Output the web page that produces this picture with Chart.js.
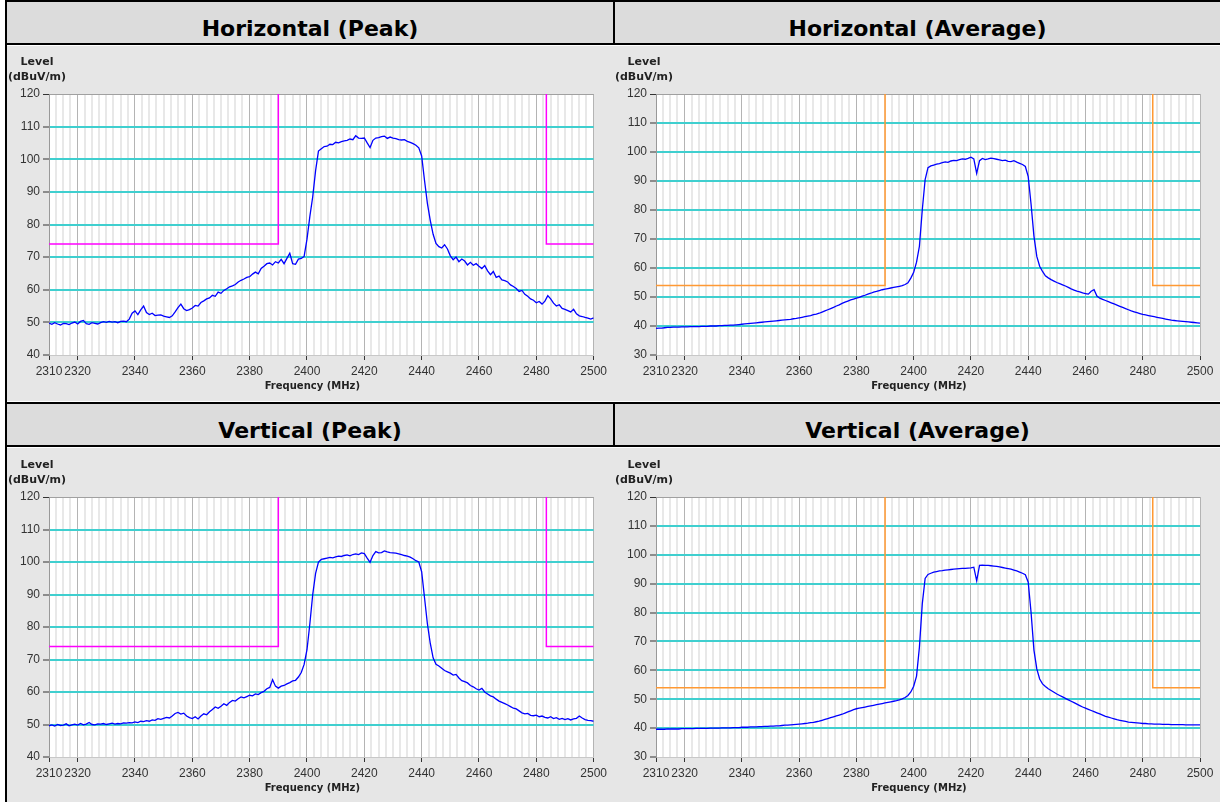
<!DOCTYPE html>
<html>
<head>
<meta charset="utf-8">
<script src="https://cdn.jsdelivr.net/npm/chart.js@4.4.1/dist/chart.umd.min.js"></script>
<style>
  body { margin: 0; background: #fff; width: 1220px; height: 802px; position: relative; overflow: hidden; }
  .bloco { position: absolute; }
  .titulo { position: absolute; font: bold 22px "DejaVu Sans", sans-serif; color: #000; text-align: center; line-height: 22px; white-space: nowrap; }
  canvas { position: absolute; }
</style>
</head>
<body>
<!-- molduras pretas e fundos -->
<div class="bloco" style="left:5px;top:0;width:2px;height:802px;background:#000"></div>
<div class="bloco" style="left:7px;top:0;width:1213px;height:2px;background:#000"></div>
<div class="bloco" style="left:7px;top:2px;width:1213px;height:41px;background:#dcdcdc"></div>
<div class="bloco" style="left:7px;top:43px;width:1213px;height:2px;background:#000"></div>
<div class="bloco" style="left:613px;top:0;width:2px;height:45px;background:#000"></div>
<div class="bloco" style="left:7px;top:46px;width:1213px;height:355px;background:#e6e6e6"></div>
<div class="bloco" style="left:7px;top:402px;width:1213px;height:2px;background:#000"></div>
<div class="bloco" style="left:7px;top:404px;width:1213px;height:41px;background:#dcdcdc"></div>
<div class="bloco" style="left:7px;top:445px;width:1213px;height:2px;background:#000"></div>
<div class="bloco" style="left:613px;top:402px;width:2px;height:45px;background:#000"></div>
<div class="bloco" style="left:7px;top:448px;width:1213px;height:354px;background:#e6e6e6"></div>

<div class="titulo" style="left:7px;top:18px;width:606px">Horizontal (Peak)</div>
<div class="titulo" style="left:615px;top:18px;width:605px">Horizontal (Average)</div>
<div class="titulo" style="left:7px;top:420px;width:606px">Vertical (Peak)</div>
<div class="titulo" style="left:615px;top:420px;width:605px">Vertical (Average)</div>

<canvas id="g1" width="604" height="354" style="left:7px;top:47px"></canvas>
<canvas id="g2" width="605" height="354" style="left:615px;top:47px"></canvas>
<canvas id="g3" width="604" height="353" style="left:7px;top:449px"></canvas>
<canvas id="g4" width="605" height="353" style="left:615px;top:449px"></canvas>

<script>
// Frequências (MHz) dos pontos medidos
const frequencias = [
  2310, 2311, 2312, 2313, 2314, 2315, 2316, 2317, 2318, 2319,
  2320, 2321, 2322, 2323, 2324, 2325, 2326, 2327, 2328, 2329,
  2330, 2331, 2332, 2333, 2334, 2335, 2336, 2337, 2338, 2339,
  2340, 2341, 2342, 2343, 2344, 2345, 2346, 2347, 2348, 2349,
  2350, 2351, 2352, 2353, 2354, 2355, 2356, 2357, 2358, 2359,
  2360, 2361, 2362, 2363, 2364, 2365, 2366, 2367, 2368, 2369,
  2370, 2371, 2372, 2373, 2374, 2375, 2376, 2377, 2378, 2379,
  2380, 2381, 2382, 2383, 2384, 2385, 2386, 2387, 2388, 2389,
  2390, 2391, 2392, 2393, 2394, 2395, 2396, 2397, 2398, 2399,
  2400, 2401, 2402, 2403, 2404, 2405, 2406, 2407, 2408, 2409,
  2410, 2411, 2412, 2413, 2414, 2415, 2416, 2417, 2418, 2419,
  2420, 2421, 2422, 2423, 2424, 2425, 2426, 2427, 2428, 2429,
  2430, 2431, 2432, 2433, 2434, 2435, 2436, 2437, 2438, 2439,
  2440, 2441, 2442, 2443, 2444, 2445, 2446, 2447, 2448, 2449,
  2450, 2451, 2452, 2453, 2454, 2455, 2456, 2457, 2458, 2459,
  2460, 2461, 2462, 2463, 2464, 2465, 2466, 2467, 2468, 2469,
  2470, 2471, 2472, 2473, 2474, 2475, 2476, 2477, 2478, 2479,
  2480, 2481, 2482, 2483, 2484, 2485, 2486, 2487, 2488, 2489,
  2490, 2491, 2492, 2493, 2494, 2495, 2496, 2497, 2498, 2499,
  2500
];

// Horizontal (Peak) - dBuV/m
const horizontalPico = [
  49.8, 49.4, 49.9, 49.5, 49.2, 49.7, 49.6, 49.3, 49.8, 50.1,
  49.5, 50.3, 50.6, 49.6, 49.4, 49.9, 49.7, 49.5, 49.9, 50.2,
  50.0, 50.3, 50.1, 50.2, 49.9, 50.3, 50.4, 50.2, 51.0, 52.8,
  53.5, 52.4, 53.8, 55.0, 53.0, 52.4, 52.8, 52.1, 52.2, 52.3,
  51.9, 51.7, 51.5, 52.0, 53.2, 54.5, 55.6, 54.2, 53.6, 53.9,
  54.4, 55.2, 55.0, 56.1, 56.6, 57.2, 57.5, 58.3, 58.0, 59.3,
  58.9, 59.8, 60.3, 60.9, 61.2, 61.6, 62.4, 62.9, 63.3, 63.8,
  64.0, 64.8, 65.4, 64.9, 66.5, 67.2, 68.0, 68.2, 67.6, 68.6,
  68.2, 69.3, 68.0, 69.6, 71.2, 68.0, 67.8, 69.4, 69.6, 70.2,
  75.5, 82.5, 88.5, 96.5, 102.5, 103.2, 103.9, 104.0, 104.6, 104.5,
  105.2, 105.0, 105.4, 105.6, 105.8, 106.2, 106.0, 107.2, 106.5, 106.4,
  106.5, 105.0, 103.6, 105.8, 106.5, 106.6, 106.9, 107.1, 106.4, 106.8,
  106.5, 106.3, 106.0, 105.9, 106.0, 105.5, 105.2, 104.8, 104.3, 103.5,
  101.0, 93.5, 86.5, 81.3, 77.0, 74.2, 73.2, 72.8, 73.8, 72.5,
  70.4, 69.2, 70.0, 68.6, 69.4, 68.8, 67.6, 68.4, 67.5, 68.0,
  67.2, 66.5, 67.4, 65.8, 64.6, 65.6, 63.8, 64.2, 63.0, 62.8,
  62.4, 61.5, 61.0, 60.4, 59.5, 59.8, 58.6, 58.0, 57.2, 56.8,
  56.0, 56.4, 55.6, 56.5, 58.2, 57.2, 55.9, 55.0, 55.4, 54.3,
  54.0, 53.6, 53.2, 54.0, 52.6, 52.0, 51.8, 51.5, 51.3, 51.0,
  51.4
];

// Horizontal (Average) - dBuV/m
const horizontalMedia = [
  39.2, 39.3, 39.3, 39.4, 39.5, 39.5, 39.6, 39.6, 39.6, 39.7,
  39.7, 39.7, 39.8, 39.8, 39.8, 39.8, 39.9, 39.9, 39.9, 40.0,
  40.0, 40.0, 40.1, 40.1, 40.2, 40.2, 40.3, 40.3, 40.4, 40.5,
  40.6, 40.7, 40.8, 40.9, 41.0, 41.1, 41.2, 41.3, 41.4, 41.5,
  41.6, 41.7, 41.8, 41.9, 42.0, 42.1, 42.2, 42.3, 42.5, 42.6,
  42.8, 43.0, 43.2, 43.4, 43.6, 43.9, 44.1, 44.4, 44.8, 45.2,
  45.6, 46.0, 46.4, 46.9, 47.3, 47.8, 48.2, 48.6, 49.0, 49.3,
  49.6, 49.9, 50.3, 50.6, 51.0, 51.3, 51.7, 51.9, 52.2, 52.5,
  52.7, 52.9, 53.1, 53.3, 53.5, 53.7, 53.9, 54.3, 54.9, 56.5,
  58.5, 62.0, 67.5, 80.0, 90.5, 94.6, 95.2, 95.5, 95.8, 96.0,
  96.3, 96.6, 96.4, 96.9, 97.1, 97.0, 97.4, 97.6, 97.5, 97.8,
  98.2, 97.6, 92.6, 97.0, 97.8, 97.4, 97.6, 97.9, 97.7, 97.5,
  97.3, 97.0, 97.2, 96.8, 96.7, 97.0, 96.5, 96.1, 95.7, 95.0,
  91.5, 82.0, 71.0, 64.0, 60.6, 58.8, 57.3, 56.6, 56.0, 55.5,
  55.0, 54.6, 54.2, 53.8, 53.3, 52.8, 52.4, 52.0, 51.8, 51.4,
  51.2, 51.0, 52.0, 52.5, 50.3, 49.6, 49.2, 48.8, 48.4, 48.0,
  47.6, 47.2, 46.8, 46.4, 46.0, 45.6, 45.2, 44.9, 44.6, 44.3,
  44.0, 43.8, 43.6, 43.4, 43.2, 43.0, 42.8, 42.6, 42.4, 42.2,
  42.0, 41.9, 41.8, 41.7, 41.6, 41.5, 41.4, 41.3, 41.2, 41.1,
  41.0
];

// Vertical (Peak) - dBuV/m
const verticalPico = [
  49.6, 49.9, 49.5, 50.0, 49.7, 49.8, 50.2, 49.6, 49.9, 50.1,
  49.8, 50.3, 49.9, 50.1, 50.6, 50.0, 49.9, 50.2, 50.1, 50.3,
  50.0, 50.2, 50.4, 50.1, 50.3, 50.2, 50.5, 50.4, 50.6, 50.5,
  50.8, 50.6, 51.0, 50.9, 51.2, 51.0, 51.4, 51.3, 51.8, 51.6,
  51.9, 52.2, 52.0, 52.6, 53.4, 53.7, 53.2, 53.5, 52.6, 52.1,
  51.8, 52.4, 51.7, 52.6, 53.3, 53.0, 53.9, 54.6, 55.4, 55.0,
  55.6, 56.4, 55.9, 56.8, 57.4, 57.2, 57.9, 58.5, 58.2, 58.6,
  59.0, 58.8, 59.4, 59.2, 59.8, 60.2, 61.0, 61.4, 63.8, 61.8,
  61.2, 61.8, 62.0, 62.5, 62.9, 63.4, 63.6, 64.6, 66.0, 68.5,
  73.0, 81.0, 90.0, 96.5, 100.0, 100.8, 101.0, 101.2, 101.4, 101.3,
  101.6, 101.8, 101.7, 102.0, 102.2, 101.9, 102.3, 102.5, 102.3, 102.8,
  102.6, 101.2, 99.9, 102.0, 103.2, 102.8, 102.9, 103.4, 103.1, 102.9,
  102.8, 102.7, 102.5, 102.3, 102.0, 101.8, 101.5, 101.0, 100.4, 100.0,
  97.0, 89.0, 81.0, 75.0, 70.5, 68.5, 68.0, 67.3, 66.6, 66.2,
  65.8, 65.2, 65.4, 64.3, 63.5, 63.2, 62.8, 62.0, 61.6, 61.0,
  60.6, 61.1, 60.0, 59.4, 58.8, 58.5, 57.8, 57.2, 56.8, 56.4,
  56.0, 55.5, 55.0, 54.8, 54.2, 53.6, 53.3, 53.4, 52.8, 52.7,
  52.9, 52.4, 52.6, 52.2, 52.0, 52.4, 51.8, 52.1, 51.6, 51.9,
  51.5, 51.8, 51.4, 51.7, 51.9, 52.6, 52.0, 51.5, 51.3, 51.2,
  51.0
];

// Vertical (Average) - dBuV/m
const verticalMedia = [
  39.6, 39.6, 39.6, 39.6, 39.7, 39.7, 39.7, 39.7, 39.7, 39.8,
  39.8, 39.8, 39.8, 39.8, 39.9, 39.9, 39.9, 39.9, 39.9, 40.0,
  40.0, 40.0, 40.0, 40.1, 40.1, 40.1, 40.1, 40.2, 40.2, 40.2,
  40.3, 40.3, 40.3, 40.4, 40.4, 40.4, 40.5, 40.5, 40.6, 40.6,
  40.7, 40.7, 40.8, 40.8, 40.9, 41.0, 41.0, 41.1, 41.2, 41.3,
  41.4, 41.5, 41.6, 41.7, 41.9, 42.0, 42.2, 42.4, 42.7, 43.0,
  43.3, 43.6, 43.9, 44.2, 44.5, 44.8, 45.2, 45.6, 46.0, 46.4,
  46.7, 46.9, 47.1, 47.3, 47.5, 47.7, 47.9, 48.1, 48.3, 48.5,
  48.7, 48.9, 49.1, 49.3, 49.5, 49.8, 50.1, 50.6, 51.3, 52.5,
  54.5, 58.0, 68.0, 83.0, 91.8, 93.2, 93.6, 94.0, 94.2, 94.4,
  94.5, 94.7, 94.8, 94.9, 95.0, 95.1, 95.2, 95.3, 95.3, 95.4,
  95.5, 95.7, 91.0, 96.3, 96.4, 96.3, 96.3, 96.2, 96.1, 96.0,
  95.8, 95.6, 95.4, 95.2, 95.0, 94.7, 94.4, 94.0, 93.6, 93.1,
  90.5, 80.0, 67.0, 60.5, 57.0, 55.3, 54.4, 53.6, 53.0, 52.4,
  51.8, 51.3, 50.8, 50.3, 49.8, 49.3, 48.8, 48.3, 47.8, 47.3,
  46.9, 46.5, 46.1, 45.7, 45.3, 44.9, 44.5, 44.1, 43.8, 43.5,
  43.2, 42.9, 42.7, 42.5, 42.3, 42.1, 42.0, 41.9, 41.8, 41.7,
  41.6, 41.6, 41.5, 41.5, 41.4, 41.4, 41.4, 41.3, 41.3, 41.3,
  41.2, 41.2, 41.2, 41.2, 41.2, 41.1, 41.1, 41.1, 41.1, 41.1,
  41.1
];

// Rótulos do eixo X e limites
const xTicksRotulo = [2310, 2320, 2340, 2360, 2380, 2400, 2420, 2440, 2460, 2480, 2500];
const bordasBanda = [2390, 2483.5];
const limitePico = 74;
const limiteMedia = 54;

// Plugin para fundo branco da área e rótulos dos eixos
const rotulos = {
    id: 'rotulos',
    beforeDraw: (chart) => {
        const { ctx, chartArea: a } = chart;
        ctx.save();
        ctx.fillStyle = '#ffffff';
        ctx.fillRect(a.left, a.top, a.right - a.left, a.bottom - a.top);
        ctx.restore();
    },
    afterDraw: (chart) => {
        const { ctx, chartArea: a } = chart;
        ctx.save();
        ctx.fillStyle = '#222';
        ctx.textAlign = 'center';
        ctx.textBaseline = 'middle';
        ctx.font = 'bold 11px "DejaVu Sans"';
        ctx.fillText('Level', a.left - 12, a.top - 32);
        ctx.fillText('(dBuV/m)', a.left - 12, a.top - 17);
        ctx.font = 'bold 10px "DejaVu Sans"';
        ctx.fillText('Frequency (MHz)', (a.left + a.right) / 2 - 9, a.bottom + 31);
        ctx.restore();
    }
};

const criaGrafico = (id, valores, limite, corLimite, yMin, caixa) => {
    const canvas = document.getElementById(id);
    const traco = frequencias.map((f, i) => ({ x: f, y: valores[i] }));
    const lim1 = [{ x: 2310, y: limite }, { x: bordasBanda[0], y: limite }, { x: bordasBanda[0], y: 120 }];
    const lim2 = [{ x: bordasBanda[1], y: 120 }, { x: bordasBanda[1], y: limite }, { x: 2500, y: limite }];
    const fonteTick = { family: '"Liberation Sans", Arial, sans-serif', size: 12 };

    return new Chart(canvas.getContext('2d'), {
        type: 'line',
        data: {
            datasets: [
                { data: traco, borderColor: '#0000ff', borderWidth: 1.3, pointRadius: 0, order: 0 },
                { data: lim1, borderColor: corLimite, borderWidth: 1.5, pointRadius: 0, order: 1 },
                { data: lim2, borderColor: corLimite, borderWidth: 1.5, pointRadius: 0, order: 1 }
            ]
        },
        options: {
            responsive: false,
            animation: false,
            devicePixelRatio: 1,
            layout: { padding: { left: 0, top: caixa.top, right: canvas.width - caixa.right, bottom: 0 } },
            plugins: { legend: { display: false }, tooltip: { enabled: false } },
            scales: {
                x: {
                    type: 'linear',
                    min: 2310,
                    max: 2500,
                    afterBuildTicks: (s) => {
                        const t = [];
                        for (let v = 2310; v <= 2500; v += 2.5) t.push({ value: v });
                        s.ticks = t;
                    },
                    afterFit: (s) => { s.height = canvas.height - caixa.bottom; },
                    border: { display: true, color: '#c8c8c8', width: 1 },
                    grid: {
                        color: (c) => (c.tick && xTicksRotulo.includes(c.tick.value)) ? '#b4b4b4' : '#e8e8e8',
                        lineWidth: (c) => (c.tick && xTicksRotulo.includes(c.tick.value)) ? 1 : 2,
                        tickColor: (c) => (c.tick && xTicksRotulo.includes(c.tick.value)) ? '#333' : 'rgba(0,0,0,0)',
                        tickLength: 5,
                        tickWidth: 1
                    },
                    ticks: {
                        autoSkip: false,
                        maxRotation: 0,
                        padding: 4,
                        color: '#333',
                        font: fonteTick,
                        callback: (v) => xTicksRotulo.includes(v) ? String(v) : ''
                    }
                },
                y: {
                    min: yMin,
                    max: 120,
                    afterFit: (s) => { s.width = caixa.left; },
                    border: { display: true, color: '#999', width: 1 },
                    grid: {
                        color: (c) => !c.tick ? '#3fcfcf' : c.tick.value === 120 ? '#a0a0a0' : c.tick.value === yMin ? 'rgba(0,0,0,0)' : '#3fcfcf',
                        lineWidth: (c) => (c.tick && c.tick.value === 120) ? 1 : 2,
                        tickColor: '#333',
                        tickLength: 6,
                        tickWidth: 1
                    },
                    ticks: {
                        stepSize: 10,
                        padding: 3,
                        color: '#333',
                        font: fonteTick,
                        callback: (v) => String(v)
                    }
                }
            }
        },
        plugins: [rotulos]
    });
};

criaGrafico('g1', horizontalPico, limitePico, '#ff00ff', 40, { left: 42, right: 588, top: 47, bottom: 308 });
criaGrafico('g2', horizontalMedia, limiteMedia, '#ff9933', 30, { left: 41, right: 585, top: 47, bottom: 308 });
criaGrafico('g3', verticalPico, limitePico, '#ff00ff', 40, { left: 42, right: 588, top: 48, bottom: 308 });
criaGrafico('g4', verticalMedia, limiteMedia, '#ff9933', 30, { left: 41, right: 585, top: 48, bottom: 308 });
</script>
</body>
</html>
